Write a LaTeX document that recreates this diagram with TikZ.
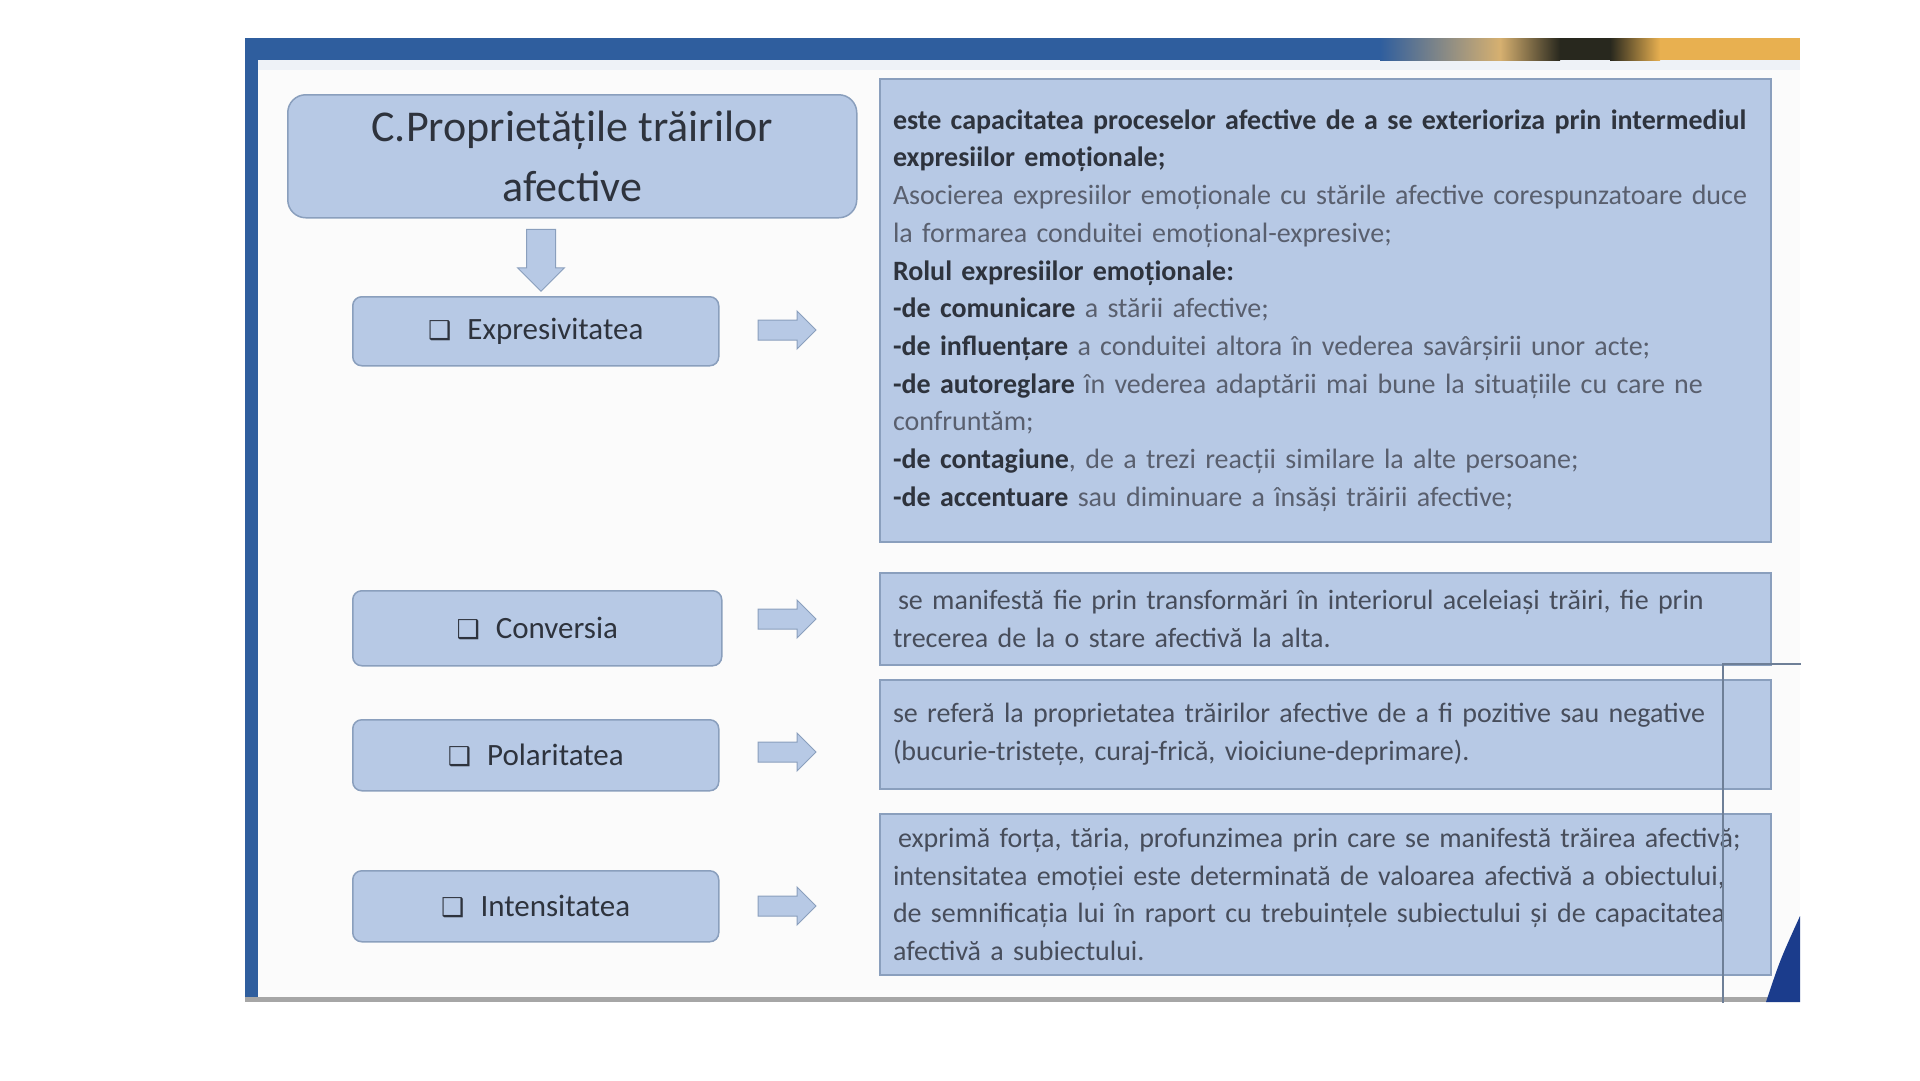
\documentclass[tikz,border=0pt]{standalone}
\usepackage{fontspec}
\setmainfont{Carlito}
\newfontfamily\symfont{DejaVu Sans}
\usetikzlibrary{shapes.arrows}

\definecolor{box fill color}{HTML}{B7C9E5}
\definecolor{box border color}{HTML}{8A9FBD}
\definecolor{dark text color}{HTML}{2E333D}
\definecolor{mid text color}{HTML}{474D5B}
\definecolor{light text color}{HTML}{595F6E}
\definecolor{frame color}{HTML}{2F5E9E}
\definecolor{corner color}{HTML}{1B3C8C}
\definecolor{band tan color}{RGB}{214,176,112}
\definecolor{band dark color}{RGB}{40,40,30}
\definecolor{band gold color}{RGB}{232,176,80}
\colorlet{artifact color}{box border color!80!black}

\newcommand{\chkbox}{{\symfont\fontsize{26}{26}\selectfont ❑}\hspace{16pt}}
\newcommand{\emphdark}[1]{\textbf{\color{dark text color}#1}}

\tikzset{
    x={1pt},
    y={-1pt},
    prop box/.style={
        draw=box border color,
        fill=box fill color,
        line width={1.5pt},
        rounded corners={9pt},
        anchor=north west,
        inner sep=0pt,
        text=dark text color,
        font={\fontsize{31}{36}\selectfont},
    },
    title box/.style={
        prop box,
        rounded corners={18pt},
        align=center,
        font={\fontsize{44}{60}\selectfont},
    },
    text box/.style={
        draw=box border color,
        fill=box fill color,
        line width={2pt},
        anchor=north west,
        align=left,
        inner xsep=13pt,
        inner ysep=0pt,
        text width={865pt},
        minimum width={891},
        text=mid text color,
        font={\fontsize{28}{37.7}\selectfont},
    },
    block arrow/.style={
        single arrow,
        draw=box border color,
        fill=box fill color,
        line width={1pt},
        inner xsep=0pt,
        single arrow head extend={9pt},
    },
    artifact line/.style={
        draw=artifact color,
        line width={1.5pt},
    },
}

\begin{document}
\begin{tikzpicture}
\useasboundingbox (0,0) rectangle (1920,1080);
% background
\fill[white] (0,0) rectangle (1920,1080);
\fill[frame color] (245,38) rectangle (1800,1002);
\fill[white!92!frame color] (258,60) rectangle (1800,70);
\fill[white!97!gray] (258,70) rectangle (1800,997);
\fill[gray!70] (245,997) rectangle (1800,1002);
\shade[left color=frame color, right color=band tan color] (1380,38) rectangle (1500,60);
\shade[left color=band tan color, right color=band dark color] (1500,38) rectangle (1560,60);
\fill[band dark color] (1560,38) rectangle (1610,60);
\shade[left color=band dark color, right color=band gold color] (1610,38) rectangle (1660,60);
\fill[band gold color] (1660,38) rectangle (1800,60);
\fill[corner color] (1766,1002) .. controls (1780,960) .. (1800,916) -- (1800,1002) -- cycle;
% left column
\node[title box, minimum width={569}, minimum height={123}] (title) at (287,94) {C.Proprietățile trăirilor\\afective};
\node[prop box, minimum width={366}, minimum height={69}] (expr) at (352,296) {\chkbox Expresivitatea};
\node[prop box, minimum width={369}, minimum height={75}] (conv) at (352,590) {\chkbox Conversia};
\node[prop box, minimum width={366}, minimum height={71}] (pol) at (352,719) {\chkbox Polaritatea};
\node[prop box, minimum width={366}, minimum height={71}] (int) at (352,870) {\chkbox Intensitatea};
% arrows
\node[block arrow, rotate=-90, minimum height={62}, minimum width={46}, inner ysep=14pt] (down) at (541,253) {};
\node[block arrow, minimum height={58}, minimum width={37}, inner ysep=9.5pt] (arrow expr) at (782,330) {};
\node[block arrow, minimum height={58}, minimum width={37}, inner ysep=9.5pt] (arrow conv) at (782,619) {};
\node[block arrow, minimum height={58}, minimum width={37}, inner ysep=9.5pt] (arrow pol) at (782,752) {};
\node[block arrow, minimum height={58}, minimum width={37}, inner ysep=9.5pt] (arrow int) at (782,906) {};
% right column
\node[text box, minimum height={463}] (expr text) at (879,78) {%
\emphdark{este capacitatea proceselor afective de a se exterioriza prin intermediul}\\
\emphdark{expresiilor emoționale;}\\
{\color{light text color}Asocierea expresiilor emoționale cu stările afective corespunzatoare duce}\\
{\color{light text color}la formarea conduitei emoțional-expresive;}\\
\emphdark{Rolul expresiilor emoționale:}\\
\emphdark{-de comunicare} {\color{light text color}a stării afective;}\\
\emphdark{-de influențare} {\color{light text color}a conduitei altora în vederea savârșirii unor acte;}\\
\emphdark{-de autoreglare} {\color{light text color}în vederea adaptării mai bune la situațiile cu care ne}\\
{\color{light text color}confruntăm;}\\
\emphdark{-de contagiune}{\color{light text color}, de a trezi reacții similare la alte persoane;}\\
\emphdark{-de accentuare} {\color{light text color}sau diminuare a însăși trăirii afective;}};
\node[text box, minimum height={92}] (conv text) at (879,572) {%
\hspace{5pt}se manifestă fie prin transformări în interiorul aceleiași trăiri, fie prin\\
trecerea de la o stare afectivă la alta.};
\node[text box, minimum height={109}] (pol text) at (879,679) {%
se referă la proprietatea trăirilor afective de a fi pozitive sau negative\\
(bucurie-tristețe, curaj-frică, vioiciune-deprimare).};
\node[text box, minimum height={161}] (int text) at (879,813) {%
\hspace{5pt}exprimă forța, tăria, profunzimea prin care se manifestă trăirea afectivă;\\
intensitatea emoției este determinată de valoarea afectivă a obiectului,\\
de semnificația lui în raport cu trebuințele subiectului și de capacitatea\\
afectivă a subiectului.};
% overlay frame
\path[artifact line] (1723,1003) -- (1723,664) -- (1801,664);
\end{tikzpicture}
\end{document}
